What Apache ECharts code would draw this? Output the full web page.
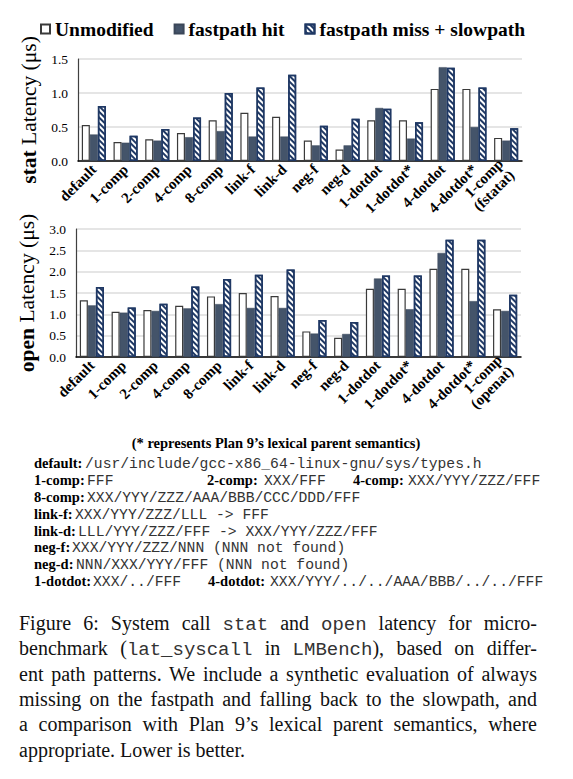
<!DOCTYPE html>
<html>
<head>
<meta charset="utf-8">
<script src="https://cdn.jsdelivr.net/npm/echarts@6/dist/echarts.min.js"></script>
<style>
  html, body { margin: 0; padding: 0; background: #fff; }
  #page { position: relative; width: 573px; height: 779px; overflow: hidden; }
  #chart { position: absolute; left: 0; top: 0; width: 573px; height: 435px; }
  .t { position: absolute; white-space: nowrap; line-height: 17px; height: 17px; }
  .b { font-family: "Liberation Serif", serif; font-weight: bold; font-size: 14.5px; color: #000; }
  .m { font-family: "Liberation Mono", monospace; font-size: 14.7px; color: #333; }
  .ib { display: inline-block; white-space: nowrap; }
  .cap { position: absolute; left: 19px; width: 518px; height: 25px; line-height: 25px;
         font-family: "Liberation Serif", serif; font-size: 20px; color: #111;
         text-align: justify; text-align-last: justify; white-space: nowrap; }
  .cap.last { text-align-last: left; }
  .cap .mm { font-family: "Liberation Mono", monospace; font-size: 19px; color: #333; }
</style>
</head>
<body>
<div id="page">
  <div id="chart"></div>
  <div id="defs"></div>
  <div id="caption"></div>
</div>
<script>
// ---------------- data ----------------
const statCategories = ['default', '1-comp', '2-comp', '4-comp', '8-comp', 'link-f', 'link-d', 'neg-f', 'neg-d', '1-dotdot', '1-dotdot*', '4-dotdot', '4-dotdot*', '1-comp\n(fstatat)'];
const openCategories = ['default', '1-comp', '2-comp', '4-comp', '8-comp', 'link-f', 'link-d', 'neg-f', 'neg-d', '1-dotdot', '1-dotdot*', '4-dotdot', '4-dotdot*', '1-comp\n(openat)'];
const seriesNames = ['Unmodified', 'fastpath hit', 'fastpath miss + slowpath'];

const statUnmodified = [0.53, 0.28, 0.32, 0.41, 0.60, 0.71, 0.65, 0.30, 0.17, 0.60, 0.60, 1.06, 1.06, 0.34];
const statHit        = [0.39, 0.27, 0.30, 0.35, 0.44, 0.36, 0.36, 0.23, 0.23, 0.78, 0.33, 1.38, 0.50, 0.30];
const statMiss       = [0.81, 0.37, 0.47, 0.64, 1.00, 1.08, 1.27, 0.52, 0.62, 0.77, 0.57, 1.37, 1.08, 0.48];

const openUnmodified = [1.33, 1.06, 1.10, 1.20, 1.42, 1.50, 1.43, 0.60, 0.45, 1.60, 1.60, 2.07, 2.07, 1.12];
const openHit        = [1.21, 1.04, 1.08, 1.14, 1.24, 1.15, 1.15, 0.55, 0.54, 1.84, 1.12, 2.44, 1.31, 1.08];
const openMiss       = [1.64, 1.16, 1.25, 1.65, 1.83, 1.93, 2.05, 0.87, 0.82, 1.91, 1.91, 2.75, 2.75, 1.46];

const statTicks = [0.0, 0.5, 1.0, 1.5];
const openTicks = [0.0, 0.5, 1.0, 1.5, 2.0, 2.5, 3.0];

const statAxisTitle = ['stat', ' Latency (μs)'];
const openAxisTitle = ['open', ' Latency (μs)'];

const noteText = '(* represents Plan 9’s lexical parent semantics)';
const defLines = [
  [['default:', '/usr/include/gcc-x86_64-linux-gnu/sys/types.h']],
  [['1-comp:', 'FFF'], ['2-comp:', 'XXX/FFF'], ['4-comp:', 'XXX/YYY/ZZZ/FFF']],
  [['8-comp:', 'XXX/YYY/ZZZ/AAA/BBB/CCC/DDD/FFF']],
  [['link-f:', 'XXX/YYY/ZZZ/LLL -> FFF']],
  [['link-d:', 'LLL/YYY/ZZZ/FFF -> XXX/YYY/ZZZ/FFF']],
  [['neg-f:', 'XXX/YYY/ZZZ/NNN (NNN not found)']],
  [['neg-d:', 'NNN/XXX/YYY/FFF (NNN not found)']],
  [['1-dotdot:', 'XXX/../FFF'], ['4-dotdot:', 'XXX/YYY/../../AAA/BBB/../../FFF']]
];
const captionLines = [
  [['Figure 6: System call ', 0], ['stat', 1], [' and ', 0], ['open', 1], [' latency for micro-', 0]],
  [['benchmark (', 0], ['lat_syscall', 1], [' in ', 0], ['LMBench', 1], ['), based on differ-', 0]],
  [['ent path patterns. We include a synthetic evaluation of always', 0]],
  [['missing on the fastpath and falling back to the slowpath, and', 0]],
  [['a comparison with Plan 9’s lexical parent semantics, where', 0]],
  [['appropriate. Lower is better.', 0]]
];

// ---------------- layout (not data) ----------------
const SERIF = '"Liberation Serif", "Times New Roman", serif';
const NAVY = '#1F3864';
const SLATE = '#44546A';
const defY = [462.3, 479.3, 496, 513, 530, 546.7, 563.3, 580];
const defX = [
  [[34, 85]],
  [[34, 87], [207, 264], [353, 408]],
  [[34, 87]],
  [[34, 75]],
  [[34, 78]],
  [[34, 72]],
  [[34, 76]],
  [[34, 93], [208, 270]]
];
const capY = [623, 648, 674, 699, 724, 750];

function esc(s) { return s.replace(/&/g, '&amp;').replace(/</g, '&lt;').replace(/>/g, '&gt;'); }

// definitions block: one line div per row, inline-block cells so baselines align
(function () {
  let html = '<div class="t b" style="left:0;width:552px;text-align:center;top:' + (443 - 8.5) + 'px">' + esc(noteText) + '</div>';
  defLines.forEach((line, i) => {
    const xs = defX[i];
    const lineLeft = xs[0][0];
    let inner = '';
    line.forEach((pair, j) => {
      const [lx, mx] = xs[j];
      const labelW = mx - lx;
      const next = j + 1 < line.length ? xs[j + 1][0] : null;
      inner += '<span class="ib b" style="width:' + labelW + 'px">' + esc(pair[0]) + '</span>';
      inner += '<span class="ib m"' + (next !== null ? ' style="width:' + (next - mx) + 'px"' : '') + '>' +
        esc(pair[1]).replace(/ /g, '&nbsp;') + '</span>';
    });
    html += '<div class="t" style="left:' + lineLeft + 'px;top:' + (defY[i] - 8.5) + 'px">' + inner + '</div>';
  });
  document.getElementById('defs').innerHTML = html;
  let cap = '';
  captionLines.forEach((line, i) => {
    const cls = 'cap' + (i === captionLines.length - 1 ? ' last' : '');
    cap += '<div class="' + cls + '" style="top:' + (capY[i] - 12.5) + 'px">' +
      line.map(seg => seg[1] ? '<span class="mm">' + esc(seg[0]) + '</span>' : esc(seg[0])).join('') + '</div>';
  });
  document.getElementById('caption').innerHTML = cap;
})();

// ---------------- chart ----------------
const chart = echarts.init(document.getElementById('chart'), null, { renderer: 'svg' });

const stripeDecal = {
  symbol: 'rect',
  symbolSize: 1,
  dashArrayX: [[1, 0]],
  dashArrayY: [1.8, 1.8],
  rotation: Math.PI / 4,
  color: NAVY,
  backgroundColor: '#ffffff'
};

const styles = [
  { color: '#ffffff', borderColor: '#3a3a3a', borderWidth: 1.2 },
  { color: SLATE, borderColor: '#3b4759', borderWidth: 0.5 },
  { color: '#ffffff', borderColor: NAVY, borderWidth: 1.5, decal: stripeDecal }
];

function yAxisFor(gridIndex, ticks, title) {
  return {
    type: 'value', gridIndex,
    min: ticks[0], max: ticks[ticks.length - 1], interval: ticks[1] - ticks[0],
    axisLine: { show: true, lineStyle: { color: '#404040', width: 1.2 } },
    axisTick: { show: false },
    splitLine: { lineStyle: { color: '#dcdcdc', width: 1.5 } },
    axisLabel: { formatter: v => v.toFixed(1), fontFamily: SERIF, fontSize: 13.5, color: '#000', margin: 10 },
    name: '{b|' + title[0] + '}' + title[1],
    nameLocation: 'middle', nameRotate: 90, nameGap: 34,
    nameTextStyle: { fontFamily: SERIF, fontSize: 21.5, color: '#000',
      rich: { b: { fontFamily: SERIF, fontSize: 21.5, fontWeight: 'bold', color: '#000' } } }
  };
}
function xAxisFor(gridIndex, cats) {
  return {
    type: 'category', gridIndex, data: cats,
    axisLine: { lineStyle: { color: '#000', width: 1.5 } },
    axisTick: { show: false },
    axisLabel: { interval: 0, rotate: 45, fontFamily: SERIF, fontWeight: 'bold', fontSize: 15, color: '#000', margin: 6, lineHeight: 16 }
  };
}

const statData = [statUnmodified, statHit, statMiss];
const openData = [openUnmodified, openHit, openMiss];
const series = [];
[statData, openData].forEach((group, gi) => {
  group.forEach((vals, si) => {
    series.push({
      type: 'bar', name: seriesNames[si], xAxisIndex: gi, yAxisIndex: gi,
      data: vals, barGap: '0%', barCategoryGap: '24%',
      itemStyle: styles[si], emphasis: { disabled: true }
    });
  });
});

chart.setOption({
  animation: false,
  legend: {
    data: seriesNames, left: 40, top: 19, padding: 0, itemWidth: 9, itemHeight: 9, itemGap: 20,
    icon: 'rect',
    textStyle: { fontFamily: SERIF, fontWeight: 'bold', fontSize: 19.5, color: '#000' }
  },
  grid: [
    { left: 78, right: 51, top: 59, height: 102 },
    { left: 76, right: 52, top: 229, height: 128 }
  ],
  xAxis: [xAxisFor(0, statCategories), xAxisFor(1, openCategories)],
  yAxis: [yAxisFor(0, statTicks, statAxisTitle), yAxisFor(1, openTicks, openAxisTitle)],
  series
});
</script>
</body>
</html>
